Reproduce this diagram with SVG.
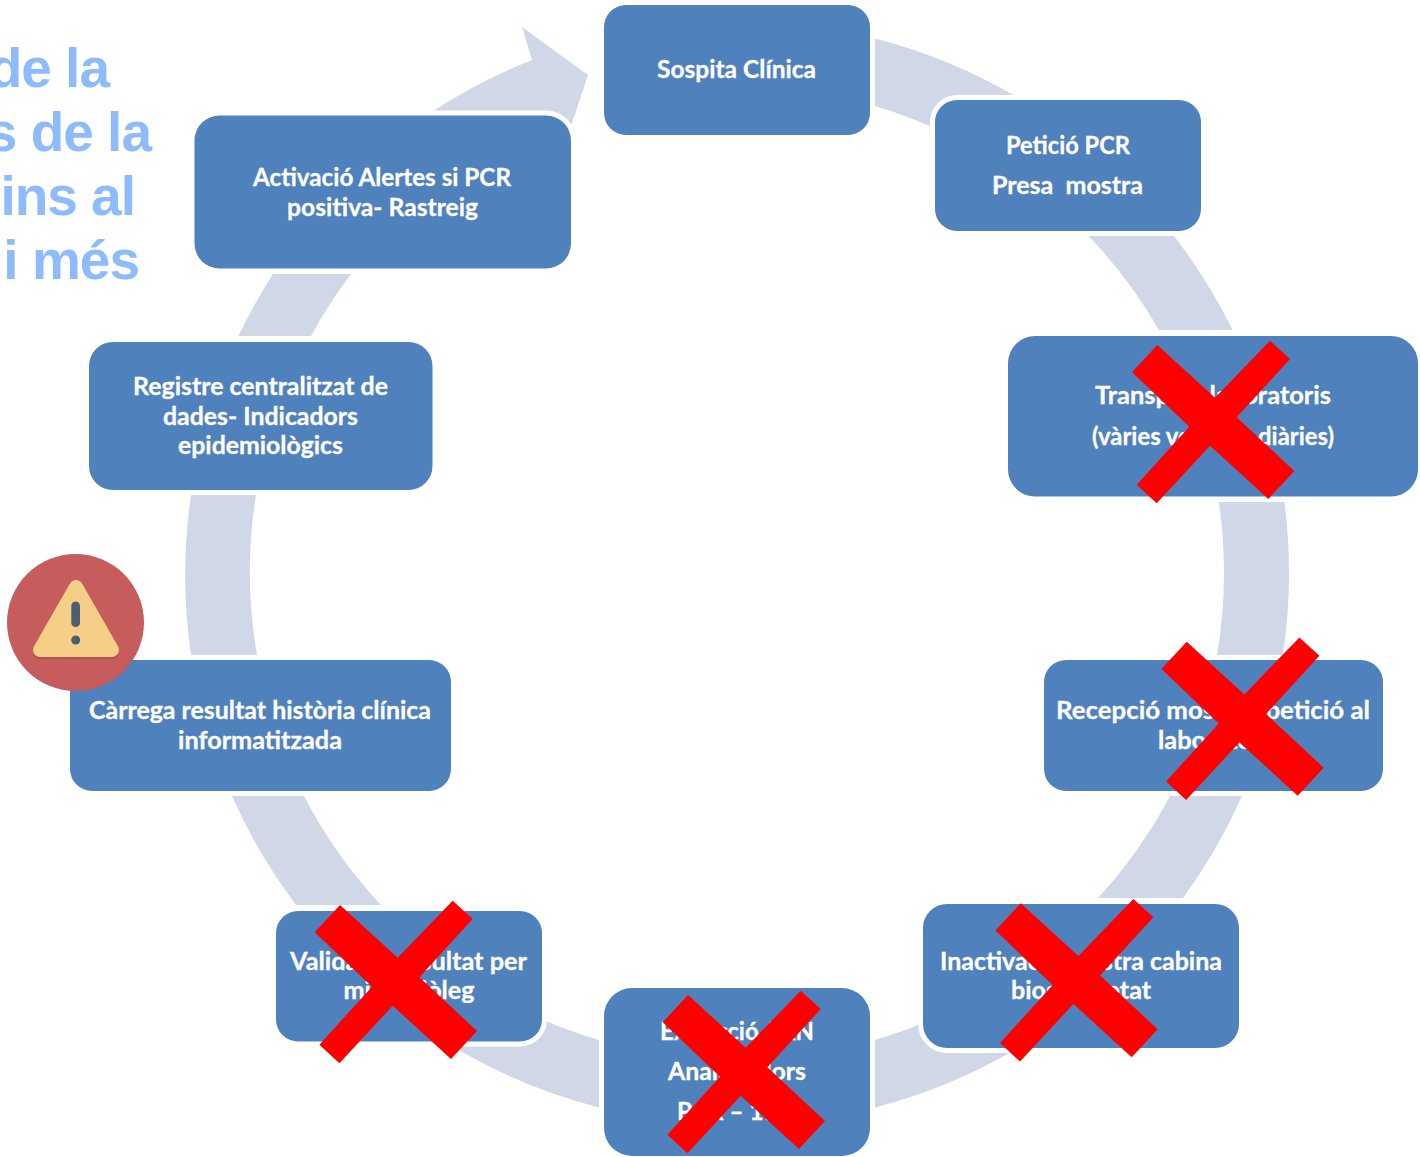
<svg xmlns="http://www.w3.org/2000/svg" width="1420" height="1157" viewBox="0 0 1420 1157">
<style>
.arc{fill:#D0D8E8}
.box{fill:#4F81BD;stroke:#fff;stroke-width:10;paint-order:stroke}
.lbl{font-family:"Lato","Liberation Sans",sans-serif;font-weight:700;font-size:24.5px;fill:#fff;stroke:#fff;stroke-width:.3;text-anchor:middle;transform:translateY(.7px)}
.ttl{font-family:"Liberation Sans",Arial,sans-serif;font-weight:700;font-size:55px;letter-spacing:-1px;fill:#8EBBFB;text-anchor:end}
</style>
<defs>
<polygon id="cross" fill="#FF0000" points="37.3,15 12,42.3 69.3,96.7 16.7,154.7 36.7,173.3 90,115.7 148.3,169 174.3,141 116.7,87.3 170,29 150,10.7 95,67.7"/>
</defs>
<rect width="1420" height="1157" fill="#fff"/>
<g id="title">
<text class="ttl" x="109" y="87">de la</text>
<text class="ttl" x="151" y="151">s de la</text>
<text class="ttl" x="135" y="215">ins al</text>
<text class="ttl" x="139" y="279">i més</text>
</g>
<g id="connectors">
<path class="arc" d="M875,38.5A552,552 0 0 1 1030,105L945,133A487,487 0 0 0 875,106Z"/>
<path class="arc" d="M1174,236A552,552 0 0 1 1232.6,330H1159A487,487 0 0 0 1088.6,236Z"/>
<path class="arc" d="M1284.4,502A552,552 0 0 1 1282.9,655H1217A487,487 0 0 0 1218.8,502Z"/>
<path class="arc" d="M1242,796A552,552 0 0 1 1183,898H1098A487,487 0 0 0 1170,796Z"/>
<path class="arc" d="M875,1107.5A552,552 0 0 0 1031,1040L960,1006A487,487 0 0 1 875,1040Z"/>
<path class="arc" d="M599,1107.5A552,552 0 0 1 427,1030L530,1014A487,487 0 0 0 599,1040Z"/>
<path class="arc" d="M232,796A552,552 0 0 0 296,905H381A487,487 0 0 1 304,796Z"/>
<path class="arc" d="M191,495A552,552 0 0 0 191,655H257A487,487 0 0 1 256,495Z"/>
<path class="arc" d="M273,274A552,552 0 0 0 238.5,336H311A487,487 0 0 1 351,274Z"/>
<path class="arc" d="M430,113A552,552 0 0 1 532,60L522,27L588,75L562,153L440,200Z"/>
</g>
<g id="n1"><rect class="box" x="604" y="5" width="266" height="130" rx="22"/><text class="lbl" x="736.5" y="77" textLength="159" lengthAdjust="spacingAndGlyphs">Sospita Clínica</text></g>
<g id="n2"><rect class="box" x="935" y="100" width="266" height="131" rx="22"/><text class="lbl" x="1068" y="153" textLength="124" lengthAdjust="spacingAndGlyphs">Petició PCR</text><text class="lbl" x="1067.5" y="193" xml:space="preserve" textLength="151" lengthAdjust="spacingAndGlyphs">Presa  mostra</text></g>
<g id="n3"><rect class="box" x="1008" y="336" width="410" height="160.500" rx="27"/><text class="lbl" x="1213" y="403" textLength="236" lengthAdjust="spacingAndGlyphs">Transport laboratoris</text><text class="lbl" x="1213" y="444" textLength="242" lengthAdjust="spacingAndGlyphs">(vàries vegades diàries)</text></g>
<g id="n4"><rect class="box" x="1044" y="660" width="339" height="131" rx="22"/><text class="lbl" x="1213" y="718" textLength="314" lengthAdjust="spacingAndGlyphs">Recepció mostra i petició al</text><text class="lbl" x="1213" y="748" textLength="110" lengthAdjust="spacingAndGlyphs">laboratori</text></g>
<g id="n5"><rect class="box" x="923" y="904" width="316" height="144" rx="24"/><text class="lbl" x="1081" y="969" textLength="282" lengthAdjust="spacingAndGlyphs">Inactivació mostra cabina</text><text class="lbl" x="1081" y="998" textLength="140" lengthAdjust="spacingAndGlyphs">bioseguretat</text></g>
<g id="n6"><rect class="box" x="604" y="988" width="266" height="168" rx="28"/><text class="lbl" x="737" y="1039" textLength="154" lengthAdjust="spacingAndGlyphs">Extracció ARN</text><text class="lbl" x="737" y="1079" textLength="138" lengthAdjust="spacingAndGlyphs">Analitzadors</text><text class="lbl" x="737" y="1119" textLength="120" lengthAdjust="spacingAndGlyphs">PCR – 11 h</text></g>
<g id="n7"><rect class="box" x="276" y="911" width="266" height="130.500" rx="22"/><text class="lbl" x="408.500" y="969" textLength="237" lengthAdjust="spacingAndGlyphs">Validació resultat per</text><text class="lbl" x="409" y="998" textLength="131" lengthAdjust="spacingAndGlyphs">microbiòleg</text></g>
<g id="n8"><rect class="box" x="70" y="660" width="381" height="131" rx="22"/><text class="lbl" x="260" y="718" textLength="342" lengthAdjust="spacingAndGlyphs">Càrrega resultat història clínica</text><text class="lbl" x="260" y="748" textLength="164" lengthAdjust="spacingAndGlyphs">informatitzada</text></g>
<g id="n9"><rect class="box" x="89" y="342" width="343.500" height="148" rx="24"/><text class="lbl" x="260.500" y="394" textLength="255" lengthAdjust="spacingAndGlyphs">Registre centralitzat de</text><text class="lbl" x="260.500" y="424" textLength="195" lengthAdjust="spacingAndGlyphs">dades- Indicadors</text><text class="lbl" x="260.500" y="453" textLength="165" lengthAdjust="spacingAndGlyphs">epidemiològics</text></g>
<g id="n10"><rect class="box" x="194.500" y="115.500" width="376.500" height="153" rx="25"/><text class="lbl" x="382" y="185" textLength="258" lengthAdjust="spacingAndGlyphs">Activació Alertes si PCR</text><text class="lbl" x="382.500" y="215" textLength="191" lengthAdjust="spacingAndGlyphs">positiva- Rastreig</text></g>
<g id="crosses">
<use href="#cross" x="1120" y="330"/>
<use href="#cross" x="1149.4" y="626.7"/>
<use href="#cross" x="983.4" y="888.3"/>
<use href="#cross" x="650.7" y="980"/>
<use href="#cross" x="302.7" y="890"/>
</g>
<g id="warning">
<circle cx="75.5" cy="622.500" r="68.500" fill="#C75C5C"/>
<path d="M76,587L112,650H40Z" fill="#AE5350" stroke="#AE5350" stroke-width="14" stroke-linejoin="round" transform="translate(0,2)"/>
<path d="M76,587L112,650H40Z" fill="#F5CF87" stroke="#F5CF87" stroke-width="14" stroke-linejoin="round"/>
<rect x="71.300" y="601.500" width="8.700" height="25.500" rx="4.300" fill="#4F5D73"/>
<circle cx="75.700" cy="640" r="4.500" fill="#4F5D73"/>
</g>
</svg>
